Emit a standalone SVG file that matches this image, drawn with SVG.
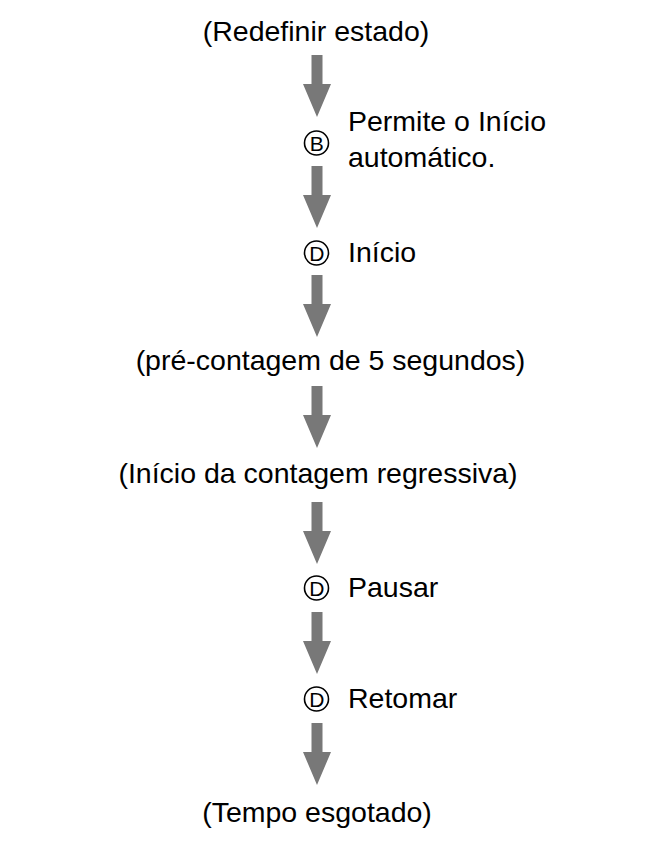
<svg xmlns="http://www.w3.org/2000/svg" width="667" height="846" viewBox="0 0 667 846">
<style>
.t{font-family:"Liberation Sans",Arial,Helvetica,sans-serif;font-size:28.5px;fill:#000}
.c{font-family:"Liberation Sans",Arial,Helvetica,sans-serif;font-size:21px;fill:#000}
.ring{fill:#fff;stroke:#000;stroke-width:1.6}
.arr{fill:#787878}
</style>
<defs>
<polygon id="arrow" class="arr" points="311.5,0 322.5,0 322.5,29 331,29 317,62 303,29 311.5,29"/>
</defs>
<rect width="667" height="846" fill="#fff"/>
<g id="connectors">
<use href="#arrow" y="55"/>
<use href="#arrow" y="166"/>
<use href="#arrow" y="275"/>
<use href="#arrow" y="386"/>
<use href="#arrow" y="502"/>
<use href="#arrow" y="612"/>
<use href="#arrow" y="723"/>
</g>
<g id="n-reset"><text class="t" x="316" y="41" text-anchor="middle">(Redefinir estado)</text></g>
<g id="n-auto">
<circle class="ring" cx="316.5" cy="143" r="12"/>
<text class="c" x="316.8" y="150.5" text-anchor="middle">B</text>
<text class="t" x="348" y="131">Permite o Início</text>
<text class="t" x="348" y="167">automático.</text>
</g>
<g id="n-start">
<circle class="ring" cx="316.5" cy="253" r="12"/>
<text class="c" x="316.8" y="260.5" text-anchor="middle">D</text>
<text class="t" x="348" y="262">Início</text>
</g>
<g id="n-pre"><text class="t" x="330.5" y="370" text-anchor="middle">(pré-contagem de 5 segundos)</text></g>
<g id="n-count"><text class="t" x="318" y="483" text-anchor="middle">(Início da contagem regressiva)</text></g>
<g id="n-pause">
<circle class="ring" cx="316.5" cy="588" r="12"/>
<text class="c" x="316.8" y="595.5" text-anchor="middle">D</text>
<text class="t" x="348" y="597">Pausar</text>
</g>
<g id="n-resume">
<circle class="ring" cx="316.5" cy="699" r="12"/>
<text class="c" x="316.8" y="706.5" text-anchor="middle">D</text>
<text class="t" x="348" y="708">Retomar</text>
</g>
<g id="n-end"><text class="t" x="317" y="822" text-anchor="middle">(Tempo esgotado)</text></g>
</svg>
